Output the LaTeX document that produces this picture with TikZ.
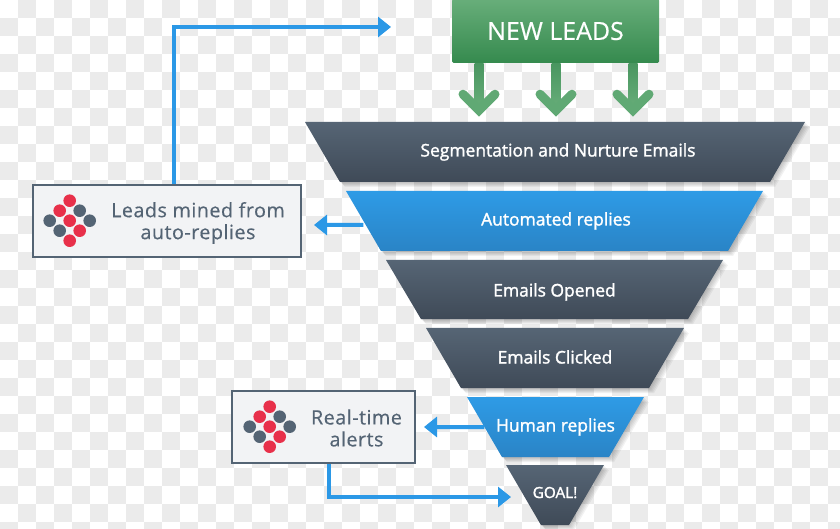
\documentclass[tikz,border=0pt]{standalone}
\usepackage{fontspec}
\setmainfont{Open Sans}
\newfontfamily\stagefont[FakeBold=1.6]{Open Sans}
\newfontfamily\leadfont[FakeBold=0.5]{Open Sans}
\newfontfamily\notefont[LetterSpace=2.5,FakeBold=0.4]{Open Sans}
\usetikzlibrary{arrows.meta,shapes.geometric,shadows}
\definecolor{slatetop}{HTML}{566575}
\definecolor{slatebot}{HTML}{3F4A57}
\definecolor{bluetop}{HTML}{2E9BE6}
\definecolor{bluebot}{HTML}{2A84C6}
\definecolor{leadtop}{HTML}{68AE7A}
\definecolor{leadbot}{HTML}{358A4E}
\definecolor{flowblue}{HTML}{2B98E6}
\definecolor{checkgray}{HTML}{EBEBEB}
\definecolor{notefill}{HTML}{F2F3F5}
\definecolor{noteline}{HTML}{546474}
\definecolor{dotred}{HTML}{E8304A}
\tikzset{
  softshadow/.style={
    general shadow={fill=black,opacity=.05,shadow xshift=1bp,shadow yshift=-1bp},
    general shadow={fill=black,opacity=.05,shadow xshift=2bp,shadow yshift=-2bp},
    general shadow={fill=black,opacity=.05,shadow xshift=3bp,shadow yshift=-3bp},
    general shadow={fill=black,opacity=.05,shadow xshift=4bp,shadow yshift=-4bp},
    general shadow={fill=black,opacity=.05,shadow xshift=5bp,shadow yshift=-5bp}},
  stage/.style={trapezium,trapezium stretches body=true,trapezium angle=24.6,shape border rotate=180,
    inner sep=0pt,outer sep=0pt,minimum height=60bp,text=white,text height=12.5bp,text depth=3.5bp,
    font=\stagefont\fontsize{17.5}{21}\selectfont,softshadow},
  darkstage/.style={stage,top color=slatetop,bottom color=slatebot},
  bluestage/.style={stage,top color=bluetop,bottom color=bluebot},
  note/.style={draw=noteline,line width=2bp,fill=notefill,inner sep=0pt},
  notetext/.style={text=noteline,align=center,font=\notefont\fontsize{19.8}{22}\selectfont},
  flow/.style={draw=flowblue,line width=4bp,->},
}
\newcommand{\dotcluster}[1]{%
  \foreach \dx/\dy/\dotcol in {0/-20/dotred,-10/-10/dotred,10/-10/noteline,-20/0/noteline,0/0/dotred,
      20/0/noteline,-10/10/noteline,10/10/dotred,0/20/dotred}
    \fill[\dotcol] (#1) ++(\dx,\dy) circle (6.3bp);
}
\begin{document}
\begin{tikzpicture}[>={Triangle[length=13bp,width=20bp]},x=1bp,y=-1bp]
\useasboundingbox (0,0) rectangle (840,529);
%% checker ground
\foreach \col in {0,...,46}
  \foreach \row in {0,...,29} {
    \pgfmathtruncatemacro{\cell}{mod(\col+\row,2)}
    \ifnum\cell=1 \fill[checkgray] (18*\col,18*\row) rectangle ++(18,18); \fi
  }
%% funnel
\node (node_leads) at (555.5,31) [rectangle,rounded corners=1.5bp,minimum width=207bp,minimum height=64bp,inner sep=0pt,
  top color=leadtop,bottom color=leadbot,text=white,font=\leadfont\fontsize{25}{29}\selectfont] {NEW LEADS};
\node (node_segment) at (555,152) [darkstage,minimum width=500bp] {\hspace*{6bp}Segmentation and Nurture Emails};
\node (node_auto) at (554.5,221) [bluestage,minimum width=417bp] {\hspace*{3bp}Automated replies};
\node (node_opened) at (554.5,289.5) [darkstage,minimum width=337bp,minimum height=59bp,text height=15bp,text depth=1bp] {Emails Opened};
\node (node_clicked) at (555,358) [darkstage,minimum width=258bp,text height=13.5bp,text depth=2.5bp] {Emails Clicked};
\node (node_human) at (555.5,427) [bluestage,minimum width=177bp] {\makebox[40bp]{Human replies}};
\node (node_goal) at (555,495) [darkstage,minimum width=98bp,font=\stagefont\fontsize{15.4}{18}\selectfont,text height=11bp,text depth=5bp] {\makebox[20bp]{GOAL!}};
%% side notes
\node (node_mined) at (167,221) [note,minimum width=268bp,minimum height=72bp] {};
\node (text_mined) at (198,223) [notetext] {Leads mined from\\auto-replies};
\node (node_alerts) at (323.5,427) [note,minimum width=183bp,minimum height=72bp] {};
\node (text_alerts) at (356.5,428) [notetext] {Real-time\\alerts};
\dotcluster{69.7,220.7}
\dotcluster{269.7,426.7}
%% lead arrows
\foreach \dx in {-76.5,0.5,77.5} {
  \shade[top color=leadbot!90!white,bottom color=leadtop] ([xshift=\dx bp-4.5bp]node_leads.south) rectangle ++(9,46);
  \draw[leadtop!85!leadbot,line width=9bp,line cap=round,line join=miter]
    ([xshift=\dx bp-16bp,yshift=-31bp]node_leads.south) -- ++(16,16) -- ++(16,-16);
}
%% flows
\coordinate (tip_top) at (391,27);
\coordinate (tip_mined) at (314,225);
\coordinate (tip_alerts) at (424,427);
\coordinate (tip_goal) at (511,497);
\draw[flow] ([xshift=7bp]node_mined.north) |- (tip_top);
\draw[flow] ([yshift=-4bp]node_auto.west) -- (tip_mined);
\draw[flow] (node_human.west) -- (tip_alerts);
\draw[flow] ([xshift=5.5bp]node_alerts.south) |- (tip_goal);
\end{tikzpicture}
\end{document}
